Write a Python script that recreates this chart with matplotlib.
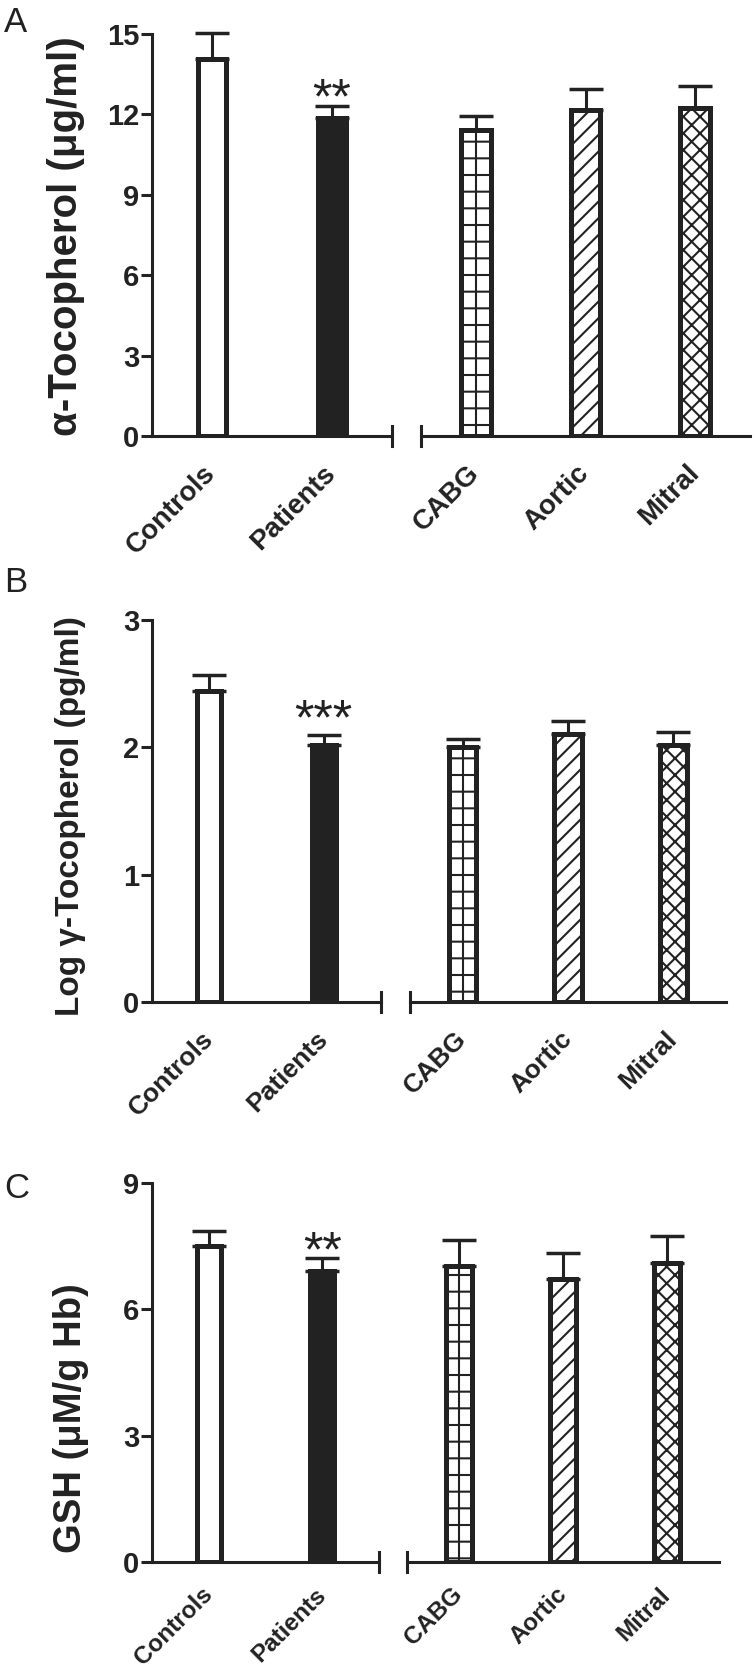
import numpy as np
import matplotlib
matplotlib.use('Agg')
import matplotlib.pyplot as plt

plt.rcParams['font.family'] = ['Liberation Sans', 'DejaVu Sans']
plt.rcParams['hatch.linewidth'] = 1.5
plt.rcParams['hatch.color'] = '#222222'

left_groups = ['Controls', 'Patients']
right_groups = ['CABG', 'Aortic', 'Mitral']

# alpha-tocopherol (ug/ml)
a_left = [14.05, 11.85]
a_left_err = [0.99, 0.45]
a_right = [11.42, 12.16, 12.25]
a_right_err = [0.52, 0.79, 0.81]
a_ticks = [0, 3, 6, 9, 12, 15]

# log gamma-tocopherol (pg/ml)
g_left = [2.445, 2.02]
g_left_err = [0.125, 0.08]
g_right = [2.0, 2.105, 2.02]
g_right_err = [0.066, 0.105, 0.10]
g_ticks = [0, 1, 2, 3]

# GSH (uM/g Hb)
gsh_left = [7.51, 6.90]
gsh_left_err = [0.36, 0.31]
gsh_right = [7.02, 6.71, 7.09]
gsh_right_err = [0.62, 0.63, 0.66]
gsh_ticks = [0, 3, 6, 9]

stars = ['**', '***', '**']

W, H = 756, 1670
ink = '#222222'
fig = plt.figure(figsize=(W / 100, H / 100), dpi=100)

styles = {'Controls': ('white', ''), 'Patients': (ink, ''),
          'CABG': ('white', '-'), 'Aortic': ('white', '//'), 'Mitral': ('white', 'xx')}


def add_ax(x0, x1, y0, y1):
    return fig.add_axes([x0 / W, 1 - y1 / H, (x1 - x0) / W, (y1 - y0) / H])


def draw_group(ax, names, vals, errs, width, ticks, xsize, xpad):
    x = np.arange(len(names))
    for xi, name, v in zip(x, names, vals):
        fc, hatch = styles[name]
        ax.bar(xi, v, width, color=fc, edgecolor=ink, linewidth=3.6, hatch=hatch, zorder=2)
        if name == 'CABG':
            ax.vlines(xi, 0, v, color=ink, lw=1.5, zorder=2.1)
    eb = ax.errorbar(x, vals, yerr=[np.zeros(len(vals)), errs], fmt='none', ecolor=ink,
                     elinewidth=2.2, capsize=12, capthick=2.5, zorder=1)
    for art in eb.get_children():
        art.set_clip_on(False)
    ax.set_xlim(-0.5, len(names) - 0.5)
    ax.set_ylim(0, ticks[-1])
    ax.set_xticks(x)
    ax.set_xticklabels(names, rotation=45, ha='right', va='center', rotation_mode='anchor',
                       fontsize=xsize, fontweight='bold', color=ink)
    ax.tick_params(axis='x', length=0, pad=xpad)
    for s in ['top', 'right', 'left', 'bottom']:
        ax.spines[s].set_linewidth(2.2)
        ax.spines[s].set_color(ink)
    ax.spines['top'].set_visible(False)
    ax.set_facecolor('none')
    return x


panels = [
    dict(letter='A', letter_y=6, label='α-Tocopherol (μg/ml)', label_xy=(66, 236), label_size=29,
         left=(a_left, a_left_err), right=(a_right, a_right_err), ticks=a_ticks,
         y=(34, 436), lx=(152, 392), rx=(421, 750), widths=(0.235, 0.27), star_gap=-5,
         xsize=20, xpad=24),
    dict(letter='B', letter_y=566, label='Log γ-Tocopherol (pg/ml)', label_xy=(71, 816), label_size=24,
         left=(g_left, g_left_err), right=(g_right, g_right_err), ticks=g_ticks,
         y=(620, 1002), lx=(152, 381), rx=(410, 726), widths=(0.21, 0.26), star_gap=0,
         xsize=19, xpad=24),
    dict(letter='C', letter_y=1172, label='GSH (μM/g Hb)', label_xy=(71, 1418), label_size=27.5,
         left=(gsh_left, gsh_left_err), right=(gsh_right, gsh_right_err), ticks=gsh_ticks,
         y=(1183, 1562), lx=(152, 379), rx=(407, 719), widths=(0.21, 0.25), star_gap=-6,
         xsize=17.5, xpad=21),
]

for p, star in zip(panels, stars):
    y0, y1 = p['y']
    axl = add_ax(p['lx'][0], p['lx'][1], y0, y1)
    axr = add_ax(p['rx'][0], p['rx'][1], y0, y1)
    xl = draw_group(axl, left_groups, p['left'][0], p['left'][1], p['widths'][0], p['ticks'],
                    p['xsize'], p['xpad'])
    draw_group(axr, right_groups, p['right'][0], p['right'][1], p['widths'][1], p['ticks'],
               p['xsize'], p['xpad'])

    # short break marks where the two axis pieces meet
    h = 10 * p['ticks'][-1] / (y1 - y0)
    axl.spines['right'].set_bounds(-h, h)
    axr.spines['left'].set_bounds(-h, h)
    axr.spines['right'].set_visible(False)

    axl.set_yticks(p['ticks'])
    axl.tick_params(axis='y', length=8, width=2.2, labelsize=21, pad=1, colors=ink)
    for t in axl.get_yticklabels():
        t.set_fontweight('bold')
    axr.tick_params(axis='y', left=False, labelleft=False)

    top = p['left'][0][1] + p['left'][1][1]
    axl.annotate(star, (xl[1], top), xytext=(0, p['star_gap']), textcoords='offset points',
                 ha='center', va='baseline', fontsize=36, color=ink, annotation_clip=False)

    fig.text(p['label_xy'][0] / W, 1 - p['label_xy'][1] / H, p['label'], rotation=90,
             ha='center', va='center', fontsize=p['label_size'], fontweight='bold', color=ink)
    fig.text(4 / W, 1 - p['letter_y'] / H, p['letter'], ha='left', va='top', fontsize=25, color=ink)

fig.savefig('out.png', dpi=100)
